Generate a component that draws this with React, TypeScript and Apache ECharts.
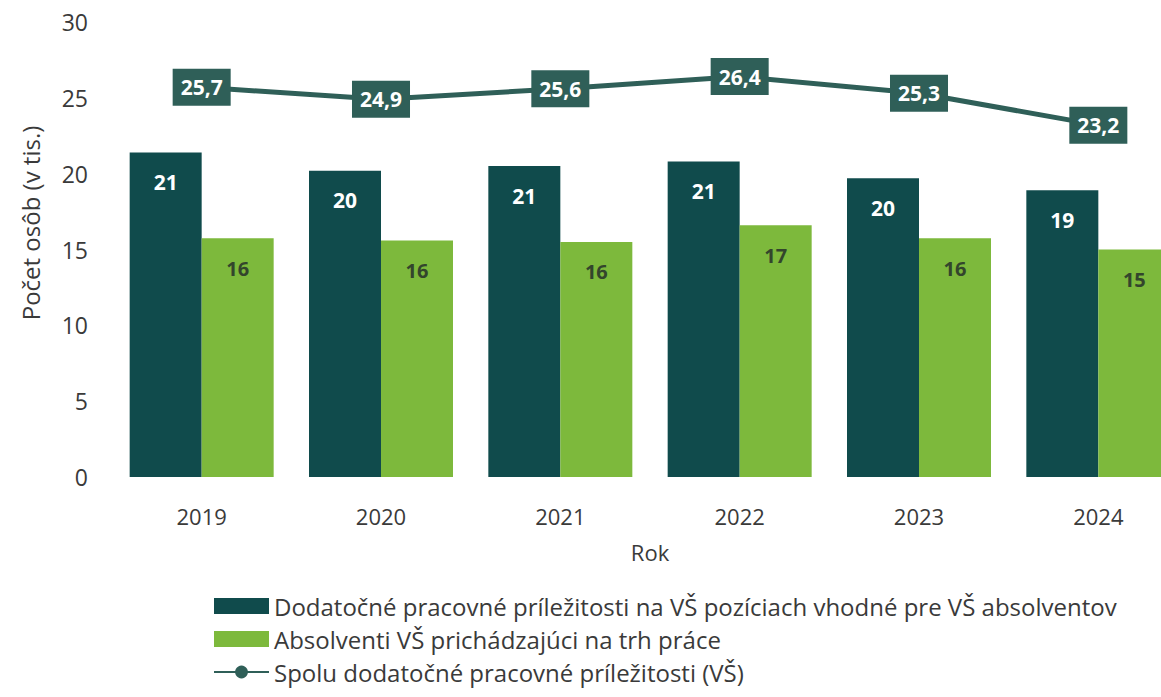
import React, { useEffect, useRef } from "react";
import * as echarts from "echarts";

const categories = ["2019", "2020", "2021", "2022", "2023", "2024"];
const opportunities = [21.4, 20.2, 20.5, 20.8, 19.7, 18.9];
const graduates = [15.75, 15.6, 15.5, 16.6, 15.75, 15.0];
const totalOpportunities = [25.7, 24.9, 25.6, 26.4, 25.3, 23.2];
const seriesNames = [
  "Dodatočné pracovné príležitosti na VŠ pozíciach vhodné pre VŠ absolventov",
  "Absolventi VŠ prichádzajúci na trh práce",
  "Spolu dodatočné pracovné príležitosti (VŠ)",
];

const FONT = "Open Sans";
const DARK = "#104b4c";
const LIGHT = "#7db93c";
const LINE = "#2f5f58";
const TEXT = "#3a3a3a";

export default function App() {
  const ref = useRef<HTMLDivElement>(null);
  useEffect(() => {
    if (!ref.current) return;
    const chart = echarts.init(ref.current, undefined, { renderer: "svg" });
    chart.setOption({
      animation: false,
      textStyle: { fontFamily: FONT },
      grid: { left: 112, right: 0, top: 22, bottom: 220, containLabel: false },
      legend: {
        orient: "vertical",
        left: 213,
        top: 594,
        padding: 0,
        itemWidth: 55,
        itemHeight: 16,
        itemGap: 9,
        textStyle: { fontFamily: FONT, fontSize: 24, color: TEXT },
        data: [
          { name: seriesNames[0], icon: "rect" },
          { name: seriesNames[1], icon: "rect" },
          { name: seriesNames[2] },
        ],
      },
      graphic: [
        {
          type: "text",
          x: 30,
          y: 223,
          rotation: Math.PI / 2,
          style: {
            text: "Počet osôb (v tis.)",
            fontFamily: FONT,
            fontSize: 24,
            fill: TEXT,
            align: "center",
            verticalAlign: "middle",
          },
        },
      ],
      xAxis: {
        type: "category",
        data: categories,
        name: "Rok",
        nameLocation: "middle",
        nameGap: 64,
        nameTextStyle: { fontFamily: FONT, fontSize: 22, color: TEXT },
        axisLine: { show: false },
        axisTick: { show: false },
        axisLabel: { fontFamily: FONT, fontSize: 22, color: TEXT, margin: 28 },
      },
      yAxis: {
        type: "value",
        min: 0,
        max: 30,
        interval: 5,
        splitLine: { show: false },
        axisLine: { show: false },
        axisTick: { show: false },
        axisLabel: { fontFamily: FONT, fontSize: 23, color: TEXT, margin: 24 },
      },
      series: [
        {
          name: seriesNames[0],
          type: "bar",
          data: opportunities,
          barWidth: 72,
          barGap: "0%",
          itemStyle: { color: DARK },
          label: {
            show: true,
            position: "insideTop",
            distance: 19,
            formatter: (p: any) => Math.round(p.value).toString(),
            color: "#ffffff",
            fontWeight: "bold",
            fontSize: 21,
            fontFamily: FONT,
          },
        },
        {
          name: seriesNames[1],
          type: "bar",
          data: graduates,
          barWidth: 72,
          itemStyle: { color: LIGHT },
          label: {
            show: true,
            position: "insideTop",
            distance: 20,
            formatter: (p: any) => Math.round(p.value).toString(),
            color: "#33452c",
            fontWeight: "bold",
            fontSize: 20,
            fontFamily: FONT,
          },
        },
        {
          name: seriesNames[2],
          type: "line",
          data: totalOpportunities,
          symbol: "circle",
          symbolSize: 11,
          lineStyle: { color: LINE, width: 5 },
          itemStyle: { color: LINE },
          label: {
            show: true,
            position: "inside",
            formatter: (p: any) => p.value.toFixed(1).replace(".", ","),
            color: "#ffffff",
            fontWeight: "bold",
            fontSize: 21,
            fontFamily: FONT,
            backgroundColor: LINE,
            padding: [8, 8, 8, 8],
          },
        },
      ],
    });
    return () => chart.dispose();
  }, []);
  return (
    <div
      style={{
        position: "fixed",
        left: 0,
        top: 0,
        width: 1161,
        height: 697,
        overflow: "hidden",
        background: "#fff",
      }}
    >
      <div ref={ref} style={{ width: 1188, height: 697 }} />
    </div>
  );
}
